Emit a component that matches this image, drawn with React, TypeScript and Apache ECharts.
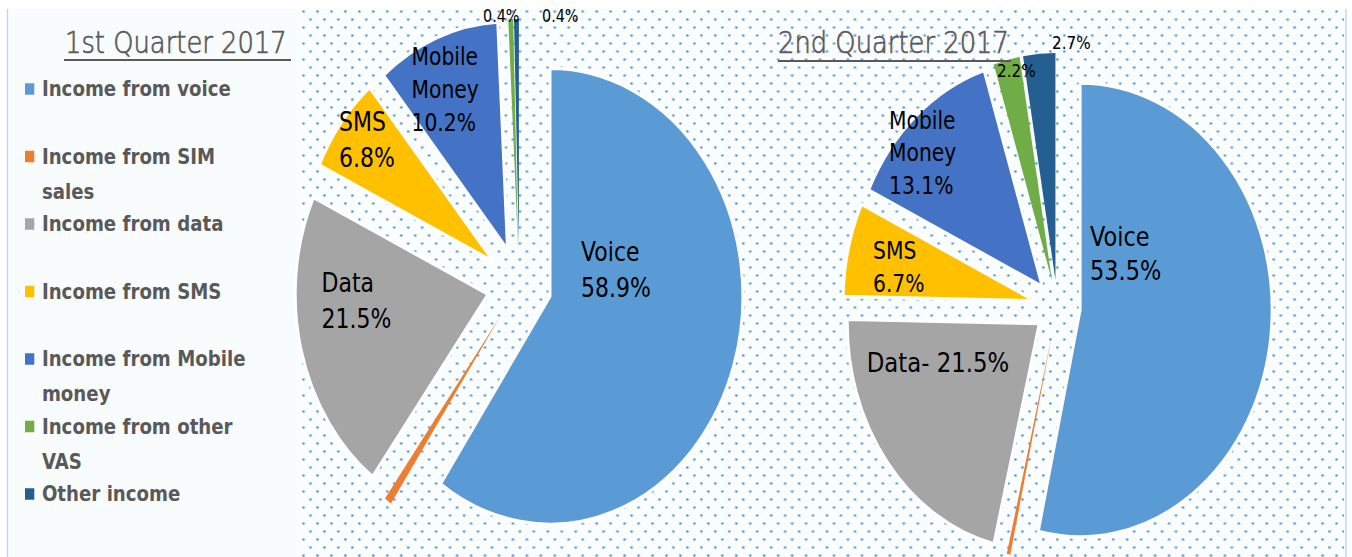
import { useEffect, useRef } from 'react';
import * as echarts from 'echarts';

// ---------- data ----------
const categories = [
  'Income from voice',
  'Income from SIM sales',
  'Income from data',
  'Income from SMS',
  'Income from Mobile money',
  'Income from other VAS',
  'Other income',
];
const legendText = [
  'Income from voice',
  'Income from SIM\nsales',
  'Income from data',
  'Income from SMS',
  'Income from Mobile\nmoney',
  'Income from other\nVAS',
  'Other income',
];
const q1Values = [58.9, 0.6, 21.5, 6.8, 10.2, 0.4, 0.4];
const q2Values = [53.5, 0.3, 21.5, 6.7, 13.1, 2.2, 2.7];
const q1LabelPrefix: (string | null)[] = ['Voice\n', null, 'Data\n', 'SMS\n', 'Mobile\nMoney\n', '', ''];
const q2LabelPrefix: (string | null)[] = ['Voice\n', null, 'Data- ', 'SMS\n', 'Mobile\nMoney\n', '', ''];
const titles = ['1st Quarter 2017', '2nd Quarter 2017'];

// ---------- style / layout ----------
const colors = ['#5b9bd5', '#ed7d31', '#a5a5a5', '#ffc000', '#4472c4', '#70ad47', '#255e91'];
const W = 1352;
const H = 557;
const CW = 1598; // chart drawn wider then squeezed horizontally
const S = W / CW;

type LL = { x: number; y: number; fs: number; lh: number } | null;
// label anchors in page pixels (left edge, vertical middle)
const q1LabelLayout: LL[] = [
  { x: 581, y: 270.3, fs: 26, lh: 35.5 },
  null,
  { x: 321.5, y: 301.3, fs: 26, lh: 35.5 },
  { x: 339, y: 140.5, fs: 26, lh: 36 },
  { x: 411.5, y: 89, fs: 24, lh: 33 },
  { x: 483, y: 16, fs: 17, lh: 20 },
  { x: 542, y: 16, fs: 17, lh: 20 },
];
const q2LabelLayout: LL[] = [
  { x: 1090, y: 254, fs: 26.5, lh: 34 },
  null,
  { x: 866.7, y: 363, fs: 27, lh: 30 },
  { x: 873, y: 266.5, fs: 24, lh: 33 },
  { x: 889, y: 152.5, fs: 24, lh: 32.5 },
  { x: 997, y: 71.5, fs: 18, lh: 20 },
  { x: 1052, y: 43.5, fs: 18, lh: 20 },
];
const titleLeft = [65, 778];
const underline = [
  { x1: 64, x2: 291, y: 60 },
  { x1: 778, x2: 1011, y: 61 },
];

// exploded pie slices (no labels)
function buildPie(values: number[], center: [number, number], radius: number, offset: number) {
  return {
    type: 'pie',
    center,
    radius,
    startAngle: 90,
    clockwise: true,
    selectedMode: 'multiple',
    selectedOffset: offset,
    avoidLabelOverlap: false,
    emphasis: { disabled: true },
    label: { show: false },
    labelLine: { show: false },
    data: values.map((v, i) => {
      const bw = v >= 5 ? 3.5 : 0;
      return {
        name: categories[i],
        value: v,
        selected: true,
        itemStyle: { color: colors[i], borderColor: '#ffffff', borderWidth: bw },
        select: { itemStyle: { color: colors[i], borderColor: '#ffffff', borderWidth: bw } },
      };
    }),
  };
}

// transparent twin of the same pie that carries the slice labels
function buildLabelPie(
  values: number[],
  prefixes: (string | null)[],
  layout: LL[],
  center: [number, number],
  radius: number
) {
  return {
    type: 'pie',
    center,
    radius,
    startAngle: 90,
    clockwise: true,
    silent: true,
    selectedMode: false,
    avoidLabelOverlap: false,
    emphasis: { disabled: true },
    labelLine: { show: false },
    itemStyle: { color: 'rgba(0,0,0,0)', borderWidth: 0 },
    label: {
      show: true,
      position: 'inside',
      color: '#000',
      fontFamily: 'DejaVu Sans',
    },
    labelLayout: (p: any) => {
      const l = layout[p.dataIndex];
      if (!l) return {};
      return { x: l.x / S, y: l.y, align: 'left', verticalAlign: 'middle' };
    },
    data: values.map((v, i) => {
      const pre = prefixes[i];
      const l = layout[i];
      return {
        name: categories[i],
        value: v,
        itemStyle: { color: 'rgba(0,0,0,0)', borderWidth: 0 },
        label:
          pre === null || !l
            ? { show: false }
            : {
                show: true,
                formatter: pre + v.toFixed(1) + '%',
                fontSize: l.fs,
                lineHeight: l.lh,
                align: 'left',
                verticalAlign: 'middle',
              },
      };
    }),
  };
}

export default function App() {
  const ref = useRef<HTMLDivElement>(null);

  useEffect(() => {
    if (!ref.current) return;
    const chart = echarts.init(ref.current, undefined, { renderer: 'svg' });

    // dotted background tile
    const tile = document.createElement('canvas');
    tile.width = 33;
    tile.height = 16;
    const ctx = tile.getContext('2d')!;
    ctx.fillStyle = '#fafdfe';
    ctx.fillRect(0, 0, 33, 16);
    ctx.fillStyle = 'rgba(75,142,212,0.95)';
    const dots = [
      [4, 3.5],
      [20.5, 3.5],
      [12.25, 11.5],
      [28.75, 11.5],
    ];
    dots.forEach(([x, y]) => {
      ctx.beginPath();
      ctx.ellipse(x, y, 1.5, 1.25, 0, 0, Math.PI * 2);
      ctx.fill();
    });

    const q1Center: [number, number] = [613.8, 285];
    const q2Center: [number, number] = [1249.8, 307];

    const option: any = {
      animation: false,
      color: colors,
      title: titles.map((t, i) => ({
        text: t,
        left: titleLeft[i] / S,
        top: 27.5,
        padding: 0,
        textStyle: {
          fontFamily: 'DejaVu Sans',
          fontWeight: 200,
          fontSize: 30.5,
          lineHeight: 30,
          color: '#595959',
          textBorderColor: '#595959',
          textBorderWidth: 0.7,
        },
      })),
      legend: {
        orient: 'vertical',
        left: 25 / S,
        top: 71.5,
        padding: 0,
        itemGap: -2.5,
        itemWidth: 11,
        itemHeight: 70,
        icon: 'path://M0,0M11,70M0,11.75h11v11.5h-11Z',
        selectedMode: false,
        itemStyle: { borderWidth: 0 },
        data: categories,
        formatter: (name: string) => {
          const t = legendText[categories.indexOf(name)];
          return t.indexOf('\n') >= 0 ? t : t + '\n\u00a0';
        },
        textStyle: {
          fontFamily: 'DejaVu Sans',
          fontWeight: 'bold',
          fontSize: 21.5,
          lineHeight: 35,
          color: '#595959',
          padding: [0, 0, 0, 4],
        },
      },
      graphic: [
        {
          type: 'rect',
          z: -10,
          silent: true,
          shape: { x: 7.5 / S, y: 9, width: (1346 - 7.5) / S, height: 560 },
          style: { fill: '#f9fcfd' },
        },
        {
          type: 'rect',
          z: -9,
          silent: true,
          shape: { x: 299 / S, y: 10, width: (1344 - 299) / S, height: 560 },
          style: { fill: { image: tile, repeat: 'repeat', imageWidth: 33, imageHeight: 16 } },
        },
        {
          type: 'line',
          z: -8,
          silent: true,
          shape: { x1: 7.5 / S, y1: 9, x2: 7.5 / S, y2: 560 },
          style: { stroke: '#c3d4ea', lineWidth: 1.6 },
        },
        {
          type: 'line',
          z: -8,
          silent: true,
          shape: { x1: 1346 / S, y1: 9, x2: 1346 / S, y2: 560 },
          style: { stroke: '#c3d4ea', lineWidth: 1.6 },
        },
        ...underline.map((u) => ({
          type: 'line',
          z: 10,
          silent: true,
          shape: { x1: u.x1 / S, y1: u.y, x2: u.x2 / S, y2: u.y },
          style: { stroke: '#595959', lineWidth: 2 },
        })),
      ],
      series: [
        buildPie(q1Values, q1Center, 228, 38),
        buildPie(q2Values, q2Center, 227, 27),
        buildLabelPie(q1Values, q1LabelPrefix, q1LabelLayout, q1Center, 228),
        buildLabelPie(q2Values, q2LabelPrefix, q2LabelLayout, q2Center, 227),
      ],
    };
    chart.setOption(option);
    return () => chart.dispose();
  }, []);

  return (
    <div
      style={{
        position: 'absolute',
        left: 0,
        top: 0,
        width: W,
        height: H,
        overflow: 'hidden',
        background: '#ffffff',
      }}
    >
      <div
        ref={ref}
        style={{
          width: CW,
          height: H,
          transform: `scaleX(${S})`,
          transformOrigin: '0 0',
        }}
      />
    </div>
  );
}
